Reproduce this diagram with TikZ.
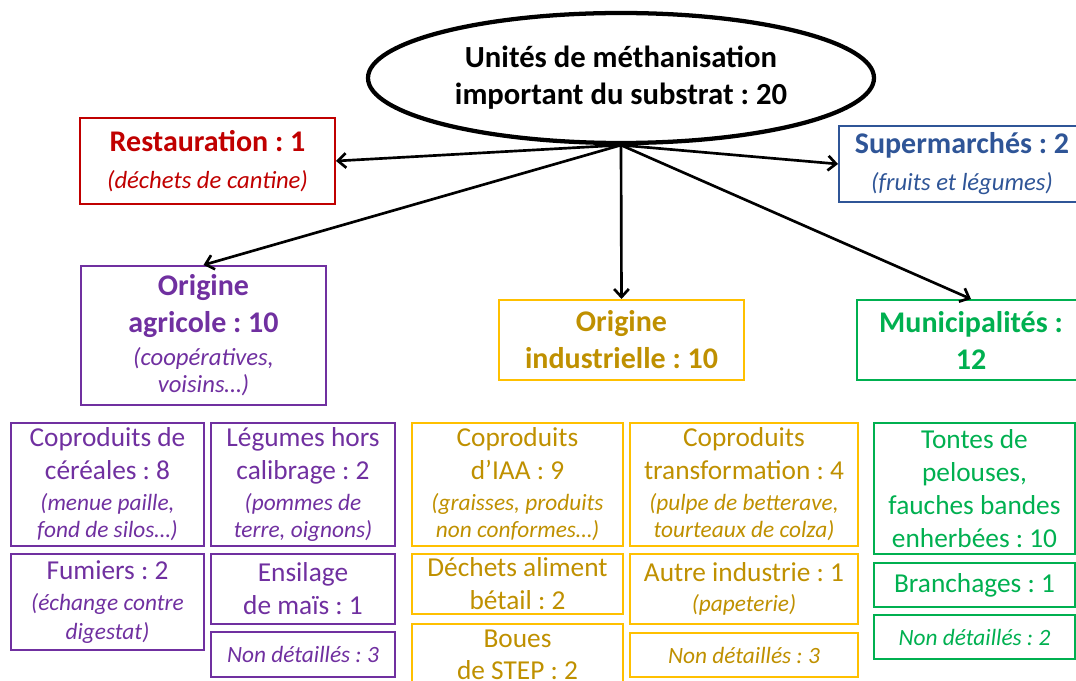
\documentclass[tikz,border=0pt]{standalone}
\usepackage{fontspec}
\setmainfont{Carlito}
\usetikzlibrary{arrows.meta,shapes.geometric}
\definecolor{cred}{HTML}{C00000}
\definecolor{cblue}{HTML}{2F5597}
\definecolor{cpurple}{HTML}{7030A0}
\definecolor{cgoldline}{HTML}{FFC000}
\definecolor{cgoldtext}{HTML}{BF9000}
\definecolor{cgreen}{HTML}{00B050}
\frenchspacing
\newcommand\topit[1]{{\fontsize{18.5}{22}\selectfont\mdseries\itshape #1}}
\newcommand\botit[1]{{\fontsize{17.5}{21}\selectfont\itshape #1}}
\begin{document}
\begin{tikzpicture}[x=0.75pt,y=-0.75pt,
  sz/.style 2 args={minimum width=#1*0.75pt, minimum height=#2*0.75pt},
  bx/.style={draw, rectangle, line width=1.5pt, inner sep=0pt, align=center, anchor=north west},
  topbox/.style={bx, font=\fontsize{22.5}{27.75}\selectfont\bfseries},
  botbox/.style={bx, font=\fontsize{20.5}{24.75}\selectfont},
  purple/.style={draw=cpurple, text=cpurple},
  gold/.style={draw=cgoldline, text=cgoldtext},
  green/.style={draw=cgreen, text=cgreen},
  arr/.style={line width=2pt, -{Straight Barb[length=6pt,width=11pt]}}
]
\useasboundingbox (0,0) rectangle (1076,681);
\clip (0,0) rectangle (1076,681);

% root ellipse
\node[ellipse, draw, line width=3.2pt, sz={506}{130}, inner sep=0pt, align=center,
  font=\fontsize{23}{27.75}\selectfont\bfseries] (root) at (621,78)
  {Unités de méthanisation\\important du substrat : 20};

% first level
\node[topbox, draw=cred, text=cred, sz={255}{86}] (rest) at (79,117)
  {Restauration : 1\\\topit{(déchets de cantine)}};
\node[topbox, draw=cblue, text=cblue, sz={246}{76}] (sup) at (838,125)
  {Supermarchés : 2\\\topit{(fruits et légumes)}};
\node[topbox, purple, sz={245}{139}] (agri) at (80,265)
  {Origine\\agricole : 10\\[-3pt]\topit{(coopératives,}\\[-7.5pt]\topit{voisins…)}};
\node[topbox, gold, sz={245}{80}] (ind) at (498,299)
  {Origine\\industrielle : 10};
\node[topbox, green, sz={228}{80}] (mun) at (856,299)
  {Municipalités :\\12};

% arrows
\draw[arr] (root.south) -- (rest.east);
\draw[arr] (root.south) -- (sup.west);
\draw[arr] (root.south) -- (agri.north);
\draw[arr] (root.south) -- (ind.north);
\draw[arr] (root.south) -- (mun.north);

% agricultural details
\node[botbox, purple, sz={193}{123}] (cer) at (10,422)
  {Coproduits de\\céréales : 8\\[-1.5pt]\botit{(menue paille,}\\[-4.5pt]\botit{fond de silos…)}};
\node[botbox, purple, sz={184}{123}] (leg) at (210,422)
  {Légumes hors\\calibrage : 2\\[-1.5pt]\botit{(pommes de}\\[-4.5pt]\botit{terre, oignons)}};
\node[botbox, purple, sz={193}{96}] (fum) at (10,553)
  {Fumiers : 2\\[-1.5pt]\botit{(échange contre}\\[-3pt]\botit{digestat)}};
\node[botbox, purple, sz={184}{70}] (ens) at (210,553)
  {Ensilage\\de maïs : 1};
\node[botbox, purple, sz={184}{45}] (nda) at (210,631)
  {\botit{Non détaillés : 3}};

% industrial details
\node[botbox, gold, sz={211}{123}] (iaa) at (411,422)
  {Coproduits\\d’IAA : 9\\[-1.5pt]\botit{(graisses, produits}\\[-4.5pt]\botit{non conformes…)}};
\node[botbox, gold, sz={228}{123}] (tra) at (629,422)
  {Coproduits\\transformation : 4\\[-1.5pt]\botit{(pulpe de betterave,}\\[-4.5pt]\botit{tourteaux de colza)}};
\node[botbox, gold, sz={211}{60}] (dab) at (411,553)
  {Déchets aliment\\bétail : 2};
\node[botbox, gold, sz={211}{62}] (bou) at (411,623)
  {Boues\\[-0.75pt]de STEP : 2};
\node[botbox, gold, sz={228}{70}] (aut) at (629,553)
  {Autre industrie : 1\\[-2.25pt]\botit{(papeterie)}};
\node[botbox, gold, sz={228}{44}] (ndi) at (629,632)
  {\botit{Non détaillés : 3}};

% municipal details
\node[botbox, green, sz={201}{131}] (ton) at (873,422)
  {Tontes de\\pelouses,\\fauches bandes\\enherbées : 10};
\node[botbox, green, sz={201}{44}] (bra) at (873,562)
  {Branchages : 1};
\node[botbox, green, sz={201}{44}] (ndm) at (873,614)
  {\botit{Non détaillés : 2}};
\end{tikzpicture}
\end{document}
